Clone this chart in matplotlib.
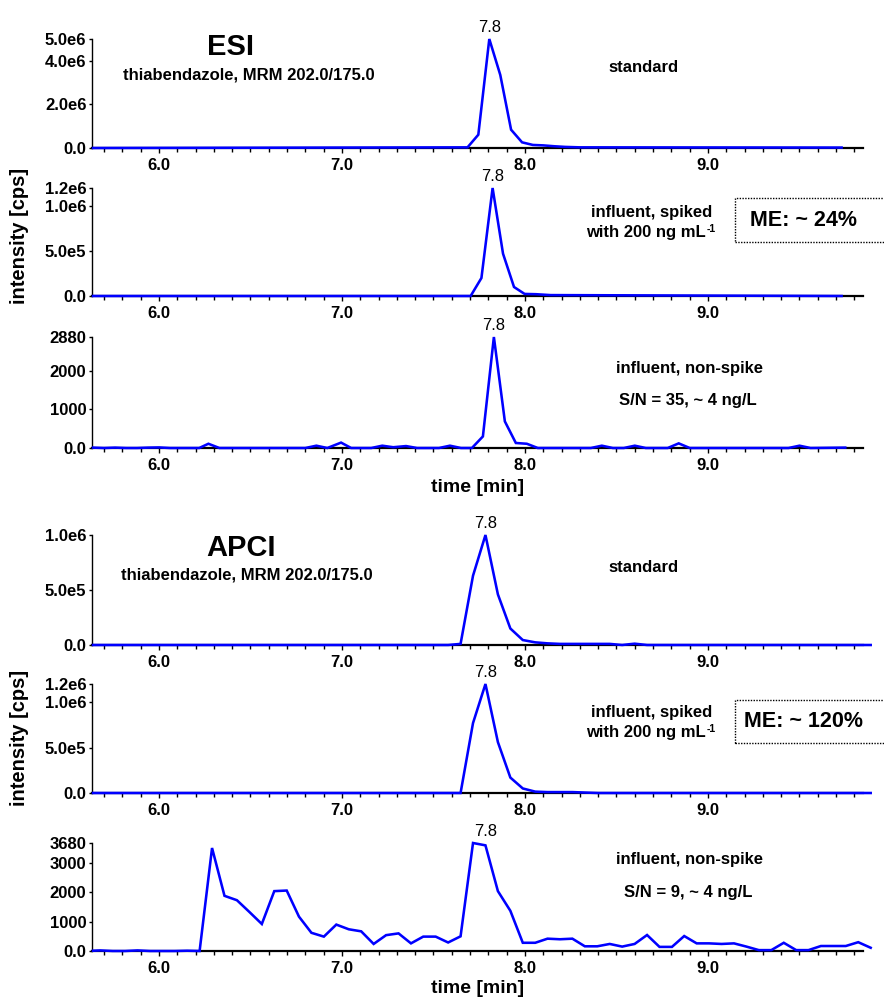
import numpy as np
import matplotlib
matplotlib.use('Agg')
import matplotlib.pyplot as plt
from matplotlib.patches import Rectangle
from matplotlib.ticker import MultipleLocator, FixedLocator

plt.rcParams['font.family'] = ['Liberation Sans', 'DejaVu Sans']

# ---------------- data ----------------
x_ticks = [6.0, 7.0, 8.0, 9.0]

# ESI standard
esi_std_t = [5.64, 7.686, 7.745, 7.805, 7.865, 7.924, 7.984, 8.043, 8.10, 8.16, 8.22, 8.30, 9.73]
esi_std_i = [0, 0.03e6, 0.61e6, 5.0e6, 3.35e6, 0.84e6, 0.26e6, 0.14e6, 0.12e6, 0.08e6, 0.05e6, 0.03e6, 0.02e6]
esi_std_yt = [0, 2.0e6, 4.0e6, 5.0e6]
esi_std_yl = ["0.0", "2.0e6", "4.0e6", "5.0e6"]

# ESI influent spiked
esi_spk_t = [5.64, 7.703, 7.762, 7.823, 7.88, 7.94, 7.998, 8.06, 8.14, 9.73]
esi_spk_i = [0, 0, 0.2e6, 1.2e6, 0.47e6, 0.1e6, 0.023e6, 0.02e6, 0.01e6, 0]
esi_spk_yt = [0, 5.0e5, 1.0e6, 1.2e6]
esi_spk_yl = ["0.0", "5.0e5", "1.0e6", "1.2e6"]

# ESI influent non-spike
esi_ns_t = [5.64, 5.70, 5.76, 5.82, 5.88, 5.94, 6.00, 6.06, 6.22, 6.27, 6.33, 6.80, 6.86,
            6.92, 6.995, 7.05, 7.16, 7.22, 7.28, 7.35, 7.41, 7.53, 7.59, 7.65, 7.71, 7.77,
            7.83, 7.89, 7.95, 8.01, 8.07, 8.36, 8.42, 8.48, 8.54, 8.60, 8.66, 8.78, 8.84,
            8.90, 9.44, 9.50, 9.56, 9.75]
esi_ns_i = [10, 0, 10, 0, 0, 10, 15, 0, 0, 110, 0, 0, 60,
            0, 140, 0, 0, 60, 20, 50, 0, 0, 60, 0, 0, 300,
            2880, 690, 130, 110, 0, 0, 60, 0, 0, 60, 0, 0, 120,
            0, 0, 60, 0, 10]
esi_ns_yt = [0, 1000, 2000, 2880]
esi_ns_yl = ["0.0", "1000", "2000", "2880"]

# APCI standard
apci_std_t = [5.64, 7.580, 7.648, 7.716, 7.784, 7.852, 7.920, 7.988, 8.056, 8.123, 8.191,
              8.259, 8.463, 8.531, 8.599, 8.667, 9.889]
apci_std_i = [0, 0, 0.01e6, 0.63e6, 1.0e6, 0.46e6, 0.15e6, 0.045e6, 0.024e6, 0.015e6, 0.01e6,
              0.01e6, 0.01e6, 0.0, 0.012e6, 0, 0]
apci_std_yt = [0, 5.0e5, 1.0e6]
apci_std_yl = ["0.0", "5.0e5", "1.0e6"]

# APCI influent spiked
apci_spk_t = [5.64, 7.648, 7.716, 7.784, 7.852, 7.920, 7.988, 8.056, 8.123, 8.259, 8.327, 8.40, 9.889]
apci_spk_i = [0, 0, 0.77e6, 1.2e6, 0.56e6, 0.17e6, 0.05e6, 0.015e6, 0.01e6, 0.01e6, 0.005e6, 0, 0]
apci_spk_yt = [0, 5.0e5, 1.0e6, 1.2e6]
apci_spk_yl = ["0.0", "5.0e5", "1.0e6", "1.2e6"]

# APCI influent non-spike
apci_ns_t = [5.640, 5.679, 5.747, 5.815, 5.883, 5.951, 6.019, 6.086, 6.154, 6.222, 6.290,
             6.358, 6.426, 6.494, 6.562, 6.630, 6.698, 6.765, 6.833, 6.901, 6.969,
             7.037, 7.105, 7.173, 7.241, 7.309, 7.377, 7.444, 7.512, 7.580, 7.648,
             7.716, 7.784, 7.852, 7.920, 7.988, 8.056, 8.123, 8.191, 8.259, 8.327,
             8.395, 8.463, 8.531, 8.599, 8.667, 8.735, 8.803, 8.870, 8.938, 9.006,
             9.074, 9.142, 9.210, 9.278, 9.346, 9.414, 9.482, 9.549, 9.617, 9.685,
             9.753, 9.821, 9.889]
apci_ns_i = [10, 20, 0, 0, 20, 0, 0, 0, 10, 0, 3510,
             1880, 1730, 1330, 920, 2040, 2060, 1170, 620, 490, 900,
             740, 670, 240, 540, 600, 260, 490, 490, 290, 500,
             3680, 3600, 2040, 1370, 280, 280, 420, 400, 420, 160,
             160, 240, 150, 240, 545, 140, 140, 510, 260, 260,
             240, 260, 150, 30, 30, 280, 30, 30, 170, 170,
             170, 300, 110]
apci_ns_yt = [0, 1000, 2000, 3000, 3680]
apci_ns_yl = ["0.0", "1000", "2000", "3000", "3680"]

peak_label = "7.8"
peak_label_t = [7.805, 7.823, 7.83, 7.784, 7.784, 7.784]

panels = [
    (esi_std_t, esi_std_i, esi_std_yt, esi_std_yl),
    (esi_spk_t, esi_spk_i, esi_spk_yt, esi_spk_yl),
    (esi_ns_t, esi_ns_i, esi_ns_yt, esi_ns_yl),
    (apci_std_t, apci_std_i, apci_std_yt, apci_std_yl),
    (apci_spk_t, apci_spk_i, apci_spk_yt, apci_spk_yl),
    (apci_ns_t, apci_ns_i, apci_ns_yt, apci_ns_yl),
]

# ---------------- layout ----------------
W, H = 884, 997
fig = plt.figure(figsize=(W / 100, H / 100), dpi=100)

ax_left, ax_right = 92, 863
panel_px = [(39, 148), (188, 296), (337, 448), (535, 645), (684, 793), (843, 951)]
XMIN, XMAX = 5.634, 9.847
LINE_C = '#0000ff'


def ftxt(x, y, s, **kw):
    return fig.text(x / W, 1 - y / H, s, **kw)


for k, ((t, v, yt, yl), (top, bot)) in enumerate(zip(panels, panel_px)):
    ax = fig.add_axes([ax_left / W, 1 - bot / H, (ax_right - ax_left) / W, (bot - top) / H])
    ax.plot(t, v, color=LINE_C, lw=1.85, zorder=4, clip_on=False, solid_joinstyle='miter')
    ax.set_xlim(XMIN, XMAX)
    ax.set_ylim(0, yt[-1])
    for s in ['top', 'right']:
        ax.spines[s].set_visible(False)
    ax.spines['bottom'].set_linewidth(1.6)
    ax.spines['left'].set_linewidth(1.0)
    ax.patch.set_visible(False)
    ax.xaxis.set_major_locator(FixedLocator(x_ticks))
    ax.xaxis.set_minor_locator(MultipleLocator(0.1))
    ax.set_xticklabels([f"{x:.1f}" for x in x_ticks])
    ax.yaxis.set_major_locator(FixedLocator(yt))
    ax.set_yticklabels(yl)
    ax.tick_params(axis='x', which='major', direction='out', length=3.5, width=1.0, pad=3.5,
                   labelsize=12)
    ax.tick_params(axis='x', which='minor', direction='out', length=3.0, width=1.0)
    ax.tick_params(axis='y', which='major', direction='out', length=2.5, width=1.0, pad=1.5,
                   labelsize=12)
    for lab in ax.get_xticklabels() + ax.get_yticklabels():
        lab.set_fontweight('bold')
    ax.annotate(peak_label, xy=(peak_label_t[k], yt[-1]), xytext=(0, 3),
                textcoords='offset points', ha='center', va='bottom', fontsize=12,
                annotation_clip=False)

BOLD = dict(fontweight='bold', ha='center', va='center')
spike_lines = []

# ESI block
ftxt(230, 47, "ESI", fontsize=21, **BOLD)
ftxt(123, 75, "thiabendazole, MRM 202.0/175.0", fontsize=12, fontweight='bold', ha='left', va='center')
ftxt(644, 67, "standard", fontsize=12, **BOLD)
ftxt(652, 212, "influent, spiked", fontsize=12, **BOLD)
spike_lines.append(ftxt(646, 233, "with 200 ng mL", fontsize=12, **BOLD))
ftxt(690, 368, "influent, non-spike", fontsize=12, **BOLD)
ftxt(688, 400, "S/N = 35, ~ 4 ng/L", fontsize=12, **BOLD)
ftxt(478, 487, "time [min]", fontsize=14, **BOLD)
ftxt(20, 236, "intensity [cps]", fontsize=14.5, rotation=90, **BOLD)

# APCI block
ftxt(241, 548, "APCI", fontsize=21, **BOLD)
ftxt(121, 575, "thiabendazole, MRM 202.0/175.0", fontsize=12, fontweight='bold', ha='left', va='center')
ftxt(644, 568, "standard", fontsize=12, **BOLD)
ftxt(652, 712, "influent, spiked", fontsize=12, **BOLD)
spike_lines.append(ftxt(646, 733, "with 200 ng mL", fontsize=12, **BOLD))
ftxt(690, 859, "influent, non-spike", fontsize=12, **BOLD)
ftxt(688, 892, "S/N = 9, ~ 4 ng/L", fontsize=12, **BOLD)
ftxt(478, 988, "time [min]", fontsize=14, **BOLD)
ftxt(20, 738, "intensity [cps]", fontsize=14.5, rotation=90, **BOLD)

# superscript "-1" after "mL"
fig.canvas.draw()
renderer = fig.canvas.get_renderer()
for txt in spike_lines:
    bb = txt.get_window_extent(renderer)
    fig.text((bb.x1 + 0.5) / W, (bb.y1 + 1.0) / H, "-1", fontsize=7.5, fontweight='bold',
             ha='left', va='top')

# ME boxes
for (y0, y1, s) in [(198, 242, "ME: ~ 24%"), (700, 743, "ME: ~ 120%")]:
    rect = Rectangle((735 / W, 1 - y1 / H), (900 - 735) / W, (y1 - y0) / H,
                     transform=fig.transFigure, fill=False, edgecolor='black',
                     linewidth=1.0, linestyle=(0, (1, 1)))
    fig.add_artist(rect)
    ftxt(804, (y0 + y1) / 2, s, fontsize=15.5, **BOLD)

fig.savefig("out.png", dpi=100)
